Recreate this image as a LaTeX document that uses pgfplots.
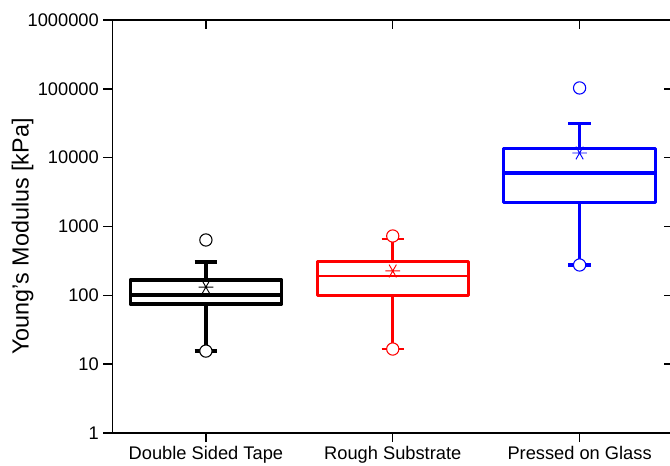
\documentclass[border=0pt]{standalone}
\usepackage{pgfplots}
\pgfplotsset{compat=1.18}
\usepackage{fontspec}
\setmainfont{Liberation Sans}
\definecolor{myred}{RGB}{255,0,0}
\definecolor{myblue}{RGB}{0,0,255}
\begin{document}
\begin{tikzpicture}
\begin{axis}[name=main,
  scale only axis, width=420.375pt, height=309.75pt,
  xmin=-0.5, xmax=2.5, ymin=1, ymax=1e6, ymode=log,
  xtick={0,1,2}, ytick={1,10,100,1000,10000,100000,1000000},
  yminorticks=false, xminorticks=false,
  major tick length=6.75pt,
  axis line style={line width=1.1pt},
  every tick/.style={line width=1.1pt, black},
  tick align=outside, xtick pos=left, ytick pos=left,
  xticklabels={Double Sided Tape, Rough Substrate, Pressed on Glass},
  yticklabels={1,10,100,1000,10000,100000,1000000},
  tick label style={font=\fontsize{13.7}{16}\selectfont},
  ylabel={Young's Modulus [kPa]},
  ylabel style={font=\fontsize{17.5}{20}\selectfont, at={(axis description cs:-0.1606,0.476)}, anchor=center},
  clip=false,
]
% ---- Double Sided Tape (black)
\addplot[black, line width=2.6pt, line join=round] coordinates {(-0.405,75) (0.405,75) (0.405,167) (-0.405,167)} -- cycle;
\addplot[black, line width=2.6pt] coordinates {(-0.405,101) (0.405,101)};
\addplot[black, line width=2.6pt] coordinates {(0,167) (0,305)};
\addplot[black, line width=2.6pt] coordinates {(0,75) (0,15.5)};
\addplot[black, line width=2.6pt] coordinates {(-0.06,305) (0.06,305)};
\addplot[black, line width=2.6pt] coordinates {(-0.06,15.5) (0.06,15.5)};
\addplot[only marks, mark=*, mark size=4.6pt, mark options={draw=black, fill=white, line width=0.8pt}] coordinates {(0,637) (0,15.5)};
\addplot[only marks, mark=asterisk, mark size=5.5pt, mark options={black, rotate=90, line width=0.7pt}] coordinates {(0,132)};
% ---- Rough Substrate (red)
\addplot[myred, line width=2.2pt, line join=round] coordinates {(0.595,98) (1.405,98) (1.405,315) (0.595,315)} -- cycle;
\addplot[myred, line width=2.2pt] coordinates {(0.595,191) (1.405,191)};
\addplot[myred, line width=2.2pt] coordinates {(1,315) (1,659)};
\addplot[myred, line width=2.2pt] coordinates {(1,98) (1,16.6)};
\addplot[myred, line width=2.2pt] coordinates {(0.94,659) (1.06,659)};
\addplot[myred, line width=2.2pt] coordinates {(0.94,16.6) (1.06,16.6)};
\addplot[only marks, mark=*, mark size=4.6pt, mark options={draw=myred, fill=white, line width=0.8pt}] coordinates {(1,728) (1,16.6)};
\addplot[only marks, mark=asterisk, mark size=5.5pt, mark options={myred, rotate=90, line width=0.7pt}] coordinates {(1,226)};
% ---- Pressed on Glass (blue)
\addplot[myblue, line width=2.3pt, line join=round] coordinates {(1.595,2200) (2.405,2200) (2.405,13800) (1.595,13800)} -- cycle;
\addplot[myblue, line width=2.3pt] coordinates {(1.595,5990) (2.405,5990)};
\addplot[myblue, line width=2.3pt] coordinates {(2,13800) (2,30900)};
\addplot[myblue, line width=2.3pt] coordinates {(2,2200) (2,276)};
\addplot[myblue, line width=2.3pt] coordinates {(1.94,30900) (2.06,30900)};
\addplot[myblue, line width=2.3pt] coordinates {(1.94,276) (2.06,276)};
\addplot[only marks, mark=*, mark size=4.6pt, mark options={draw=myblue, fill=white, line width=0.8pt}] coordinates {(2,103000) (2,276)};
\addplot[only marks, mark=asterisk, mark size=5.5pt, mark options={myblue, rotate=90, line width=0.7pt}] coordinates {(2,11700)};
\end{axis}
\begin{axis}[
  scale only axis, width=420.375pt, height=309.75pt,
  xmin=-0.5, xmax=2.5, ymin=1, ymax=1e6, ymode=log,
  xtick={0,1,2}, ytick={1,10,100,1000,10000,100000,1000000},
  yminorticks=false, xminorticks=false,
  major tick length=6.75pt,
  axis line style={line width=1.1pt},
  every tick/.style={line width=1.1pt, black},
  tick align=inside, xtick pos=right, ytick pos=right,
  xticklabels={}, yticklabels={},
]
\end{axis}
\pgfresetboundingbox
\path ([xshift=-84.375pt, yshift=-24pt]main.south west) rectangle ([xshift=-2.25pt, yshift=15pt]main.north east);
\end{tikzpicture}
\end{document}
